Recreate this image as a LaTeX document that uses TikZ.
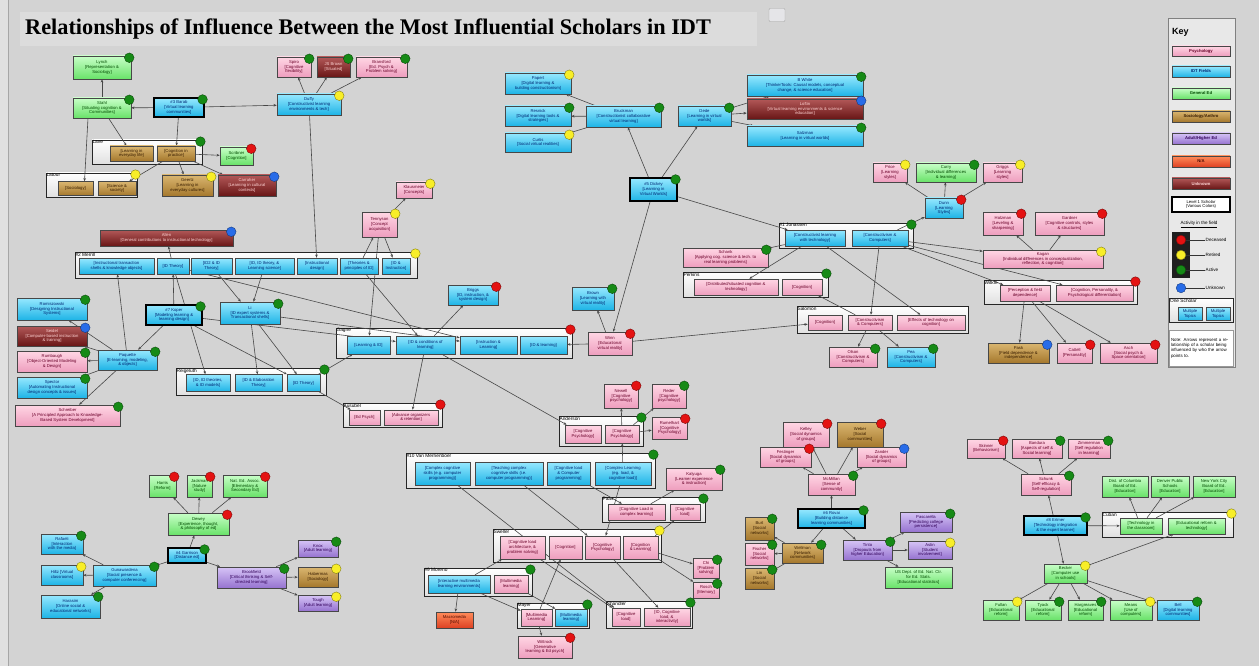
\documentclass[tikz,border=0pt]{standalone}
\usepackage{fontspec}
\setmainfont{Liberation Sans}
\newfontfamily\headfont{Liberation Serif}
\usepackage{tikz}
\usetikzlibrary{arrows.meta, positioning, calc}

% field colours (top / bottom of the shading, text)
\definecolor{canvas}{RGB}{211,211,211}
\definecolor{headbg}{RGB}{220,220,220}
\definecolor{keyfill}{RGB}{232,232,232}
\definecolor{psyT}{RGB}{255,214,228}
\definecolor{psyB}{RGB}{238,158,190}
\definecolor{psyX}{RGB}{105,0,40}
\definecolor{idtT}{RGB}{150,232,255}
\definecolor{idtB}{RGB}{30,180,230}
\definecolor{idtX}{RGB}{0,38,115}
\definecolor{genT}{RGB}{200,255,200}
\definecolor{genB}{RGB}{105,226,105}
\definecolor{genX}{RGB}{0,75,0}
\definecolor{socT}{RGB}{218,182,112}
\definecolor{socB}{RGB}{165,120,45}
\definecolor{socX}{RGB}{55,28,0}
\definecolor{aduT}{RGB}{214,196,246}
\definecolor{aduB}{RGB}{150,115,208}
\definecolor{aduX}{RGB}{48,0,88}
\definecolor{naT}{RGB}{255,140,90}
\definecolor{naB}{RGB}{222,65,35}
\definecolor{naX}{RGB}{80,10,0}
\definecolor{unkT}{RGB}{178,88,88}
\definecolor{unkB}{RGB}{105,22,22}
\definecolor{unkX}{RGB}{255,212,212}
\definecolor{dRed}{RGB}{228,18,18}
\definecolor{dYel}{RGB}{248,238,40}
\definecolor{dGrn}{RGB}{22,138,22}
\definecolor{dBlu}{RGB}{40,108,232}

\pgfdeclarelayer{bgpaper}
\pgfdeclarelayer{groups}
\pgfdeclarelayer{links}
\pgfsetlayers{bgpaper,groups,links,main}

% activity dot on the top right corner of a box
\newcommand{\status}[2]{\filldraw[fill=#2, draw=#2!55!black, line width=0.4pt]
  ([shift={(-2,2)}]#1.north east) circle[radius=4.8];}

\begin{document}
\begin{tikzpicture}[
		x=1pt, y=-1pt,
		box/.style={draw=black!72, line width=0.5pt, inner sep=0.4pt, align=center,
			font=\fontsize{4.2}{4.7}\selectfont},
		wh/.style 2 args={minimum width=#1, minimum height=#2},
		psy/.style={box, top color=psyT, bottom color=psyB, text=psyX},
		idt/.style={box, top color=idtT, bottom color=idtB, text=idtX},
		gen/.style={box, top color=genT, bottom color=genB, text=genX},
		soc/.style={box, top color=socT, bottom color=socB, text=socX},
		adu/.style={box, top color=aduT, bottom color=aduB, text=aduX},
		na/.style={box, top color=naT, bottom color=naB, text=naX},
		unk/.style={box, top color=unkT, bottom color=unkB, text=unkX},
		lone/.style={draw=black, line width=1.1pt},
		grp/.style={draw=black!85, line width=0.9pt, top color=white, bottom color=black!12, inner sep=0},
		grplbl/.style={anchor=north west, inner sep=0.8pt, font=\fontsize{4.8}{5}\selectfont},
		keylbl/.style={anchor=west, inner sep=0.5pt, font=\fontsize{4.6}{5}\selectfont},
		link/.style={draw=black!72, line width=0.6pt, -{Stealth[length=3.2pt, width=2.6pt]}}
	]
		\useasboundingbox (0,0) rectangle (1259,666);
		\begin{pgfonlayer}{bgpaper}
			\fill[canvas] (0,0) rectangle (1259,666);
			\fill[black!12] (0,0) rectangle (8,666);
			\draw[black!35] (8,0) -- (8,666);
			\fill[headbg] (20,12) rectangle (757,46);
		\end{pgfonlayer}

		% Title
		\node[anchor=west, inner sep=0, font=\headfont\bfseries\fontsize{22.3}{24}\selectfont] (title)
			at (25,29) {Relationships of Influence Between the Most Influential Scholars in IDT};
		\node[draw=black!35, fill=blue!8!black!10, rounded corners=1pt, wh={16}{13}, inner sep=0] (icon) at (777,15) {};

		% Level 1 scholar frames and key
		\begin{pgfonlayer}{groups}
			\node[draw=black!50, line width=0.8pt, fill=keyfill, wh={67}{349}, inner sep=0] (key) at (1201.5,192.5) {};
			\node[grp, wh={110}{24}] (lave) at (147,152) {};
			\node[grp, wh={91}{24}] (latour) at (91.5,185) {};
			\node[grp, wh={342}{26}] (merrill) at (246,265) {};
			\node[grp, wh={150}{27}] (reigeluth) at (251,381.5) {};
			\node[grp, wh={236}{30}] (gagne) at (454,343) {};
			\node[grp, wh={99}{24}] (ausubel) at (392.5,415) {};
			\node[grp, wh={134}{25}] (jonassen) at (846,235.5) {};
			\node[grp, wh={145}{25}] (perkins) at (755.5,284.5) {};
			\node[grp, wh={171}{27}] (salomon) at (882.5,319.5) {};
			\node[grp, wh={153}{24}] (witkin) at (1060.5,292) {};
			\node[grp, wh={84}{30}] (anderson) at (601,431) {};
			\node[grp, wh={249}{35}] (vanmer) at (530.5,470.5) {};
			\node[grp, wh={103}{25}] (paas) at (653.5,509.5) {};
			\node[grp, wh={168}{33}] (sweller) at (577,545.5) {};
			\node[grp, wh={86}{27}] (chandler) at (649,614.5) {};
			\node[grp, wh={72}{25}] (mayer) at (553,615.5) {};
			\node[grp, wh={108}{28}] (moreno) at (478,582) {};
			\node[grp, wh={131}{25}] (cuban) at (1167.5,524.5) {};
			\node[grp, wh={64}{24}] (kone) at (1201.5,310) {};
		\end{pgfonlayer}
		\foreach \g/\t in {lave/Lave, latour/Latour, merrill/\#2 Merrill, reigeluth/Reigeluth, gagne/Gagne,
			ausubel/Ausubel, jonassen/\#1 Jonassen, perkins/Perkins, salomon/Salomon, witkin/Witkin,
			anderson/Anderson, vanmer/\#10 Van Merrienboer, paas/Paas, sweller/Sweller, chandler/Chandler,
			mayer/Mayer, moreno/\#9 Moreno, cuban/Cuban, kone/One Scholar}
			{\node[grplbl] (\g-t) at (\g.north west) {\t};}

		% Situated cognition
		\node[gen, wh={58}{23}] (lynch) at (102,67.5) {Lynch\\{}[Representation \&\\Sociology]};
		\node[gen, wh={58}{20}] (stahl) at (102,108) {Stahl\\{}[Situating cognition \&\\Communities]};
		\node[idt, lone, wh={50}{19}] (barab) at (179,107.5) {\#3 Barab\\{}[Virtual learning\\communities]};
		\node[soc, wh={43}{15}] (lave1) at (131.5,153.5) {[Learning in\\everyday life]};
		\node[soc, wh={38}{15}] (lave2) at (176,153.5) {[Cognition in\\practice]};
		\node[gen, wh={33}{18}] (scribner) at (236.5,156) {Scribner\\{}[Cognition]};
		\node[soc, wh={35}{14}] (lat1) at (75.5,188.5) {[Sociology]};
		\node[soc, wh={38}{14}] (lat2) at (117,188.5) {[Science \&\\society]};
		\node[soc, wh={51}{21}] (geertz) at (187.5,185.5) {Geertz\\{}[Learning in\\everyday cultures]};
		\node[unk, wh={58}{21}] (carraher) at (247,185.5) {Carraher\\{}[Learning in cultural\\contexts]};

		% Constructivist environments
		\node[psy, wh={34}{20}] (spiro) at (294,67) {Spiro\\{}[Cognitive\\flexibility]};
		\node[unk, wh={33}{20}] (jsbrown) at (333.5,67) {JS Brown\\{}[Situated]};
		\node[psy, wh={51}{20}] (bransford) at (381.5,67) {Bransford\\{}[Ed. Psych \&\\Problem solving]};
		\node[idt, wh={64}{21}] (duffy) at (309,104.5) {Duffy\\{}[Constructivist learning\\environments \& tech]};

		% Virtual worlds
		\node[idt, wh={66}{21}] (papert) at (538,83.5) {Papert\\{}[Digital learning \&\\building constructionism]};
		\node[idt, wh={66}{20}] (resnick) at (538,116) {Resnick\\{}[Digital learning tools \&\\strategies]};
		\node[idt, wh={66}{19}] (curtis) at (538,142.5) {Curtis\\{}[Social virtual realities]};
		\node[idt, wh={75}{21}] (bruckman) at (623.5,116.5) {Bruckman\\{}[Constructionist collaborative\\virtual learning]};
		\node[idt, wh={53}{20}] (dede) at (704.5,116) {Dede\\{}[Learning in virtual\\worlds]};
		\node[idt, wh={116}{21}] (bwhite) at (805,85.5) {B White\\{}[ThinkerTools: Causal models, conceptual\\change, \& science education]};
		\node[unk, wh={116}{20}] (loftin) at (805,109) {Loftin\\{}[Virtual learning environments \& science\\education]};
		\node[idt, wh={116}{20}] (salzman) at (805,136) {Salzman\\{}[Learning in virtual worlds]};
		\node[idt, lone, wh={47}{23}] (dickey) at (653.5,189.5) {\#5 Dickey\\{}[Learning in\\Virtual Worlds]};

		% Learning and cognitive styles
		\node[psy, wh={34}{19}] (price) at (890,172.5) {Price\\{}[Learning\\styles]};
		\node[gen, wh={60}{19}] (curry) at (946,172.5) {Curry\\{}[Individual differences\\\& learning]};
		\node[psy, wh={39}{19}] (griggs) at (1002.5,172.5) {Griggs\\{}[Learning\\styles]};
		\node[idt, wh={38}{20}] (dunn) at (944,208) {Dunn\\{}[Learning\\Styles]};
		\node[psy, wh={40}{23}] (holzman) at (1003,223.5) {Holzman\\{}[Leveling \&\\sharpening]};
		\node[psy, wh={69}{23}] (gardner) at (1069.5,223.5) {Gardner\\{}[Cognitive controls, styles\\\& structures]};
		\node[psy, wh={120}{18}] (kagan) at (1043,259) {Kagan\\{}[Individual differences in conceptualization,\\reflection, \& cognition]};
		\node[psy, wh={50}{16}] (wit1) at (1025,293) {[Perception \& field\\dependence]};
		\node[psy, wh={77}{16}] (wit2) at (1094.5,293) {[Cognition, Personality, \&\\Psychological differentiation]};
		\node[soc, wh={61}{20}] (pask) at (1018.5,353) {Pask\\{}[Field dependence \&\\independence]};
		\node[psy, wh={35}{20}] (cattell) at (1074.5,353) {Cattell\\{}[Personality]};
		\node[psy, wh={57}{20}] (asch) at (1128.5,353) {Asch\\{}[Social psych \&\\Space orientation]};

		% Jonassen, Perkins, Salomon
		\node[idt, wh={60}{16}] (jon1) at (815,238) {[Constructivist learning\\with technology]};
		\node[idt, wh={56}{16}] (jon2) at (880,238) {[Constructivism \&\\Computers]};
		\node[psy, wh={85}{19}] (schank) at (725.5,257.5) {Schank\\{}[Applying cog. science \& tech. to\\real learning problems]};
		\node[psy, wh={84}{16}] (per1) at (736,287) {[Distributed/situated cognition \&\\technology]};
		\node[psy, wh={40}{16}] (per2) at (802,287) {[Cognition]};
		\node[psy, wh={34}{15}] (sal1) at (825,322.5) {[Cognition]};
		\node[psy, wh={44}{15}] (sal2) at (870,322.5) {[Constructivism\\\& Computers]};
		\node[psy, wh={68}{15}] (sal3) at (931,322.5) {[Effects of technology on\\cognition]};
		\node[psy, wh={48}{20}] (olson) at (853,357) {Olson\\{}[Constructivism \&\\Computers]};
		\node[idt, wh={48}{20}] (pea) at (911,357) {Pea\\{}[Constructivism \&\\Computers]};

		% Merrill and instructional design
		\node[unk, wh={133}{16}] (allen) at (166.5,238) {Allen\\{}[General contributions to instructional technology]};
		\node[idt, wh={75}{16}] (mer1) at (116.5,266) {[Instructional transaction\\shells \& knowledge objects]};
		\node[idt, wh={32}{16}] (mer2) at (173,266) {[ID Theory]};
		\node[idt, wh={41}{16}] (mer3) at (211.5,266) {[ID2 \& ID\\Theory]};
		\node[idt, wh={59}{16}] (mer4) at (264.5,266) {[ID, ID theory, \&\\Learning science]};
		\node[idt, wh={40}{16}] (mer5) at (317,266) {[Instructional\\design]};
		\node[idt, wh={38}{16}] (mer6) at (359,266) {[Theories \&\\principles of ID]};
		\node[idt, wh={28}{16}] (mer7) at (396,266) {[ID \&\\Instruction]};
		\node[psy, wh={35}{25}] (tennyson) at (379.5,224.5) {Tennyson\\{}[Concept\\acquisition]};
		\node[psy, wh={36}{16}] (klausmeier) at (414,190) {Klausmeier\\{}[Concepts]};
		\node[idt, wh={70}{22}] (romiszowski) at (52,309) {Romiszowski\\{}[Designing Instructional\\Systems]};
		\node[unk, wh={70}{20}] (seidel) at (52,336) {Seidel\\{}[Computer-based instruction\\\& training]};
		\node[psy, wh={70}{21}] (rumbaugh) at (52,361.5) {Rumbaugh\\{}[Object-Oriented Modeling\\\& Design]};
		\node[idt, wh={70}{21}] (spector) at (52,387.5) {Spector\\{}[Automating Instructional\\design concepts \& issues]};
		\node[psy, wh={105}{21}] (schreiber) at (67.5,415.5) {Schreiber\\{}[A Principled Approach to Knowledge-\\Based System Development]};
		\node[idt, wh={59}{20}] (paquette) at (127.5,360) {Paquette\\{}[E-learning, modeling,\\\& objects]};
		\node[idt, lone, wh={56}{20}] (koper) at (174,315) {\#7 Koper\\{}[Modeling learning \&\\learning design]};
		\node[idt, wh={60}{22}] (li) at (250,313) {Li\\{}[ID expert systems \&\\Transactional shells]};
		\node[idt, wh={44}{17}] (rei1) at (208,383) {[ID, ID theories,\\\& ID models]};
		\node[idt, wh={47}{17}] (rei2) at (258.5,383) {[ID \& Elaboration\\Theory]};
		\node[idt, wh={33}{17}] (rei3) at (303.5,383) {[ID Theory]};

		% Gagne and Ausubel
		\node[idt, wh={43}{18}] (gag1) at (368.5,345) {[Learning \& ID]};
		\node[idt, wh={59}{18}] (gag2) at (425.5,345) {[ID \& conditions of\\learning]};
		\node[idt, wh={57}{18}] (gag3) at (488.5,345) {[Instruction \&\\Learning]};
		\node[idt, wh={47}{18}] (gag4) at (543.5,345) {[ID \& learning]};
		\node[idt, wh={50}{20}] (briggs) at (473,295) {Briggs\\{}[ID, instruction, \&\\system design]};
		\node[psy, wh={31}{15}] (aus1) at (364.5,417.5) {[Ed Psych]};
		\node[psy, wh={54}{15}] (aus2) at (411,417.5) {[Advance organizers\\\& retention]};
		\node[idt, wh={42}{23}] (brownvr) at (593,298.5) {Brown\\{}[Learning with\\virtual reality]};
		\node[psy, wh={44}{23}] (winn) at (610,343.5) {Winn\\{}[Educational\\virtual reality]};

		% Cognitive load
		\node[psy, wh={34}{24}] (newell) at (621,396) {Newell\\{}[Cognitive\\psychology]};
		\node[psy, wh={34}{24}] (reder) at (669,396) {Reder\\{}[Cognitive\\psychology]};
		\node[psy, wh={35}{22}] (rumelhart) at (669.5,428) {Rumelhart\\{}[Cognitive\\Psychology]};
		\node[psy, wh={36}{18}] (and1) at (583,434) {[Cognitive\\Psychology]};
		\node[psy, wh={34}{18}] (and2) at (622,434) {[Cognitive\\Psychology]};
		\node[idt, wh={55}{23}] (vm1) at (442.5,473.5) {[Complex cognitive\\skills (e.g. computer\\programming)]};
		\node[idt, wh={68}{23}] (vm2) at (509,473.5) {[Teaching complex\\cognitive skills (i.e.\\computer programming)]};
		\node[idt, wh={43}{23}] (vm3) at (568.5,473.5) {[Cognitive load\\\& Computer\\programming]};
		\node[idt, wh={56}{23}] (vm4) at (623,473.5) {[Complex Learning\\(eg. load, \&\\cognitive load)]};
		\node[psy, wh={56}{22}] (kalyuga) at (694,479) {Kalyuga\\{}[Learner experience\\\& instruction]};
		\node[psy, wh={57}{16}] (paas1) at (636.5,512) {[Cognitive Load in\\complex learning]};
		\node[psy, wh={30}{16}] (paas2) at (685,512) {[Cognitive\\load]};
		\node[psy, wh={45}{23}] (sw1) at (522.5,547.5) {[Cognitive load\\architecture, \&\\problem solving]};
		\node[psy, wh={33}{23}] (sw2) at (565.5,547.5) {[Cognition]};
		\node[psy, wh={35}{23}] (sw3) at (602.5,547.5) {[Cognitive\\Psychology]};
		\node[psy, wh={35}{23}] (sw4) at (640.5,547.5) {[Cognition\\\& Learning]};
		\node[psy, wh={26}{20}] (chi) at (706,568) {Chi\\{}[Problem\\solving]};
		\node[psy, wh={26}{16}] (rosch) at (706,590) {Rosch\\{}[Memory]};
		\node[psy, wh={28}{18}] (ch1) at (626,617) {[Cognitive\\load]};
		\node[psy, wh={46}{18}] (ch2) at (667,617) {[ID, Cognitive\\load, \&\\interactivity]};
		\node[psy, wh={31}{17}] (may1) at (536.5,617.5) {[Multimedia\\Learning]};
		\node[idt, wh={32}{17}] (may2) at (571,617.5) {[Multimedia\\learning]};
		\node[idt, wh={62}{18}] (mor1) at (459,584) {[Interactive multimedia\\learning environments]};
		\node[psy, wh={34}{18}] (mor2) at (511,584) {[Multimedia\\learning]};
		\node[na, wh={37}{16}] (macromedia) at (454.5,620) {Macromedia\\{}[N/A]};
		\node[psy, wh={54}{22}] (wittrock) at (545,647) {Wittrock\\{}[Generative\\learning \& Ed psych]};

		% Distance and adult education
		\node[gen, wh={27}{22}] (harris) at (162.5,486) {Harris\\{}[Reform]};
		\node[gen, wh={25}{22}] (jackman) at (199.5,486) {Jackman\\{}[Nature\\study]};
		\node[gen, wh={44}{22}] (nea) at (245,486) {Nat. Ed. Assoc.\\{}[Elementary \&\\Secondary Ed]};
		\node[gen, wh={61}{22}] (dewey) at (198.5,524) {Dewey\\{}[Experience, thought,\\\& philosophy of ed]};
		\node[idt, lone, wh={38}{15}] (garrison) at (187,555.5) {\#4 Garrison\\{}[Distance ed]};
		\node[idt, wh={63}{21}] (gunawardena) at (124.5,575.5) {Gunawardena\\{}[Social presence \&\\computer conferencing]};
		\node[idt, wh={42}{20}] (rafaeli) at (62,544) {Rafaeli\\{}[Interaction\\with the media]};
		\node[idt, wh={42}{20}] (hiltz) at (62,575) {Hiltz [Virtual\\classrooms]};
		\node[idt, wh={59}{23}] (harasim) at (70.5,606.5) {Harasim\\{}[Online social \&\\educational networks]};
		\node[adu, wh={69}{21}] (brookfield) at (251.5,577.5) {Brookfield\\{}[Critical thinking \& Self-\\directed learning]};
		\node[adu, wh={40}{17}] (knox) at (318,548.5) {Knox\\{}[Adult learning]};
		\node[soc, wh={40}{20}] (habermas) at (318,577) {Habermas\\{}[Sociology]};
		\node[adu, wh={40}{16}] (tough) at (318,603) {Tough\\{}[Adult learning]};

		% Online communities
		\node[psy, wh={46}{25}] (kelley) at (806,434.5) {Kelley\\{}[Social dynamics\\of groups]};
		\node[soc, wh={46}{25}] (weber) at (860,434.5) {Weber\\{}[Social\\communities]};
		\node[psy, wh={51}{20}] (festinger) at (785.5,457) {Festinger\\{}[Social dynamics\\of groups]};
		\node[psy, wh={49}{20}] (zander) at (881.5,457) {Zander\\{}[Social dynamics\\of groups]};
		\node[psy, wh={47}{21}] (mcmillan) at (831.5,484.5) {McMillan\\{}[Sense of\\community]};
		\node[idt, lone, wh={67}{19}] (rovai) at (831.5,518.5) {\#6 Rovai\\{}[Building distance\\learning communities]};
		\node[soc, wh={41}{20}] (wellman) at (802.5,553) {Wellman\\{}[Network\\communities]};
		\node[soc, wh={29}{23}] (burt) at (759.5,528.5) {Burt\\{}[Social\\networks]};
		\node[psy, wh={29}{22}] (fischer) at (759.5,554) {Fischer\\{}[Social\\networks]};
		\node[soc, wh={29}{21}] (lin) at (759.5,578.5) {Lin\\{}[Social\\networks]};
		\node[adu, wh={49}{20}] (tinto) at (867.5,550) {Tinto\\{}[Dropouts from\\higher Education]};
		\node[adu, wh={52}{20}] (pascarella) at (926,522) {Pascarella\\{}[Predicting college\\persistence]};
		\node[adu, wh={44}{18}] (astin) at (930,550) {Astin\\{}[Student\\involvement]};
		\node[gen, wh={67}{21}] (usdept) at (918.5,577.5) {US Dept. of Ed. Nat. Ctr.\\for Ed. Stats.\\{}[Educational statistics]};

		% Technology integration
		\node[psy, wh={38}{19}] (skinner) at (986,448.5) {Skinner\\{}[Behaviorism]};
		\node[psy, wh={50}{19}] (bandura) at (1037,448.5) {Bandura\\{}[Aspects of self \&\\Social learning]};
		\node[psy, wh={42}{19}] (zimmerman) at (1089,448.5) {Zimmerman\\{}[Self regulation\\in learning]};
		\node[psy, wh={50}{21}] (schunk) at (1046,484.5) {Schunk\\{}[Self-efficacy \&\\Self-regulation]};
		\node[idt, lone, wh={63}{19}] (ertmer) at (1055.5,525.5) {\#8 Ertmer\\{}[Technology integration\\\& the expert learner]};
		\node[gen, wh={42}{16}] (cub1) at (1141,526) {[Technology in\\the classroom]};
		\node[gen, wh={57}{16}] (cub2) at (1196.5,526) {[Educational reform \&\\technology]};
		\node[gen, wh={46}{21}] (dcboard) at (1125,486.5) {Dist. of Columbia\\Board of Ed.\\{}[Education]};
		\node[gen, wh={38}{21}] (denver) at (1170,486.5) {Denver Public\\Schools\\{}[Education]};
		\node[gen, wh={42}{21}] (nycboard) at (1214,486.5) {New York City\\Board of Ed.\\{}[Education]};
		\node[gen, wh={43}{19}] (becker) at (1065.5,573.5) {Becker\\{}[Computer use\\in schools]};
		\node[gen, wh={36}{20}] (fullan) at (1001,610) {Fullan\\{}[Educational\\reform]};
		\node[gen, wh={36}{20}] (tyack) at (1043,610) {Tyack\\{}[Educational\\reform]};
		\node[gen, wh={35}{20}] (hargreaves) at (1085.5,610) {Hargreaves\\{}[Educational\\reform]};
		\node[gen, wh={42}{20}] (means) at (1131,610) {Means\\{}[Use of\\computers]};
		\node[idt, wh={42}{20}] (bell) at (1178,610) {Bell\\{}[Digital learning\\communities]};

		% Influence arrows (point to the influencing scholar)
		\begin{pgfonlayer}{links}
			\draw[link] ([xshift=-14]stahl.south) -- ([xshift=9]lat1.north);
			\foreach \from/\to in {stahl/lynch, barab/stahl, barab/duffy, stahl/lave1, barab/lave2,
				lave2/scribner, lave2/lat2, lave2/geertz, lave2/carraher,
				duffy/spiro, duffy/jsbrown, duffy/bransford, duffy/mer5,
				bruckman/papert, bruckman/resnick, bruckman/curtis,
				dede/bwhite, dede/loftin, dede/salzman,
				dickey/bruckman, dickey/dede, dickey/winn, dickey/jon1,
				dunn/price, dunn/curry, dunn/griggs, jon2/dunn,
				kagan/holzman, kagan/gardner, jon2/kagan, jon2/wit2, jon2/wit1,
				wit1/pask, wit1/cattell, wit1/asch,
				jon1/schank, jon1/per1, jon1/sal3, jon2/sal2, sal2/per2, sal2/olson, sal2/pea,
				winn/sal1, winn/brownvr, winn/gag4,
				tennyson/klausmeier, mer6/tennyson, tennyson/mer7, tennyson/gag1,
				mer2/allen,
				paquette/romiszowski, paquette/seidel, paquette/rumbaugh, paquette/spector,
				paquette/schreiber, paquette/mer1,
				koper/paquette, koper/mer2, mer2/rei1, mer3/li, mer4/li,
				li/rei2, li/rei3, koper/rei3, rei3/gag1, rei3/aus1,
				gag2/briggs, gag2/aus2, gag2/and1, mer6/gag2, li/gag3, koper/gag2, mer2/gag3,
				and2/newell, and2/reder, and2/rumelhart,
				vm4/and2, vm3/paas1, paas1/kalyuga, vm1/ch1, vm2/sw3, vm4/sw3,
				sw4/paas2, sw4/chi, sw4/rosch, sw3/ch2, sw1/ch1,
				mor1/macromedia, mor1/may1, mor2/may2, mor1/sw1, may1/sw2, may1/wittrock,
				garrison/dewey, garrison/gunawardena, garrison/brookfield,
				dewey/harris, dewey/jackman, dewey/nea,
				gunawardena/rafaeli, gunawardena/hiltz, gunawardena/harasim,
				brookfield/knox, brookfield/habermas, brookfield/tough,
				mcmillan/kelley, mcmillan/weber, mcmillan/festinger, mcmillan/zander,
				rovai/mcmillan, rovai/wellman, rovai/tinto,
				wellman/burt, wellman/fischer, wellman/lin,
				tinto/pascarella, tinto/astin, tinto/usdept,
				schunk/skinner, schunk/bandura, schunk/zimmerman,
				ertmer/schunk, ertmer/cub1, ertmer/becker,
				cub1/dcboard, cub1/denver, cub1/nycboard,
				becker/cub2, becker/fullan, becker/tyack, becker/hargreaves, becker/means, becker/bell}
				{\draw[link] (\from) -- (\to);}
		\end{pgfonlayer}

		% Activity in the field
		\foreach \n/\c in {lynch/dGrn, stahl/dGrn, barab/dGrn, lave/dGrn, scribner/dRed, latour/dYel,
			geertz/dYel, carraher/dBlu, spiro/dGrn, jsbrown/dGrn, bransford/dGrn, duffy/dYel,
			papert/dYel, resnick/dGrn, curtis/dYel, bruckman/dGrn, dede/dGrn, bwhite/dGrn,
			loftin/dBlu, salzman/dGrn, dickey/dGrn, price/dYel, curry/dGrn, griggs/dYel, dunn/dRed,
			holzman/dRed, gardner/dRed, kagan/dYel, witkin/dRed, pask/dBlu, cattell/dRed, asch/dRed,
			jonassen/dGrn, schank/dGrn, perkins/dGrn, olson/dGrn, pea/dGrn, allen/dBlu, merrill/dYel,
			tennyson/dYel, klausmeier/dYel, romiszowski/dGrn, seidel/dBlu, rumbaugh/dGrn,
			spector/dGrn, schreiber/dGrn, paquette/dGrn, koper/dGrn, li/dGrn, reigeluth/dGrn,
			gagne/dRed, briggs/dRed, ausubel/dRed, brownvr/dGrn, winn/dRed, newell/dRed,
			reder/dGrn, rumelhart/dRed, anderson/dGrn, vanmer/dGrn, kalyuga/dGrn, paas/dGrn,
			sweller/dYel, chi/dGrn, rosch/dGrn, chandler/dGrn, mayer/dGrn, moreno/dGrn,
			wittrock/dRed, harris/dRed, jackman/dRed, nea/dRed, dewey/dRed, garrison/dGrn,
			gunawardena/dGrn, rafaeli/dGrn, hiltz/dYel, harasim/dGrn, brookfield/dGrn, knox/dGrn,
			habermas/dYel, tough/dYel, kelley/dRed, weber/dRed, festinger/dRed, zander/dBlu,
			mcmillan/dGrn, rovai/dGrn, wellman/dGrn, burt/dGrn, fischer/dGrn, lin/dGrn,
			tinto/dGrn, pascarella/dGrn, astin/dYel, skinner/dRed, bandura/dGrn, zimmerman/dGrn,
			schunk/dGrn, ertmer/dGrn, cuban/dYel, becker/dYel, fullan/dYel, tyack/dGrn,
			hargreaves/dGrn, means/dYel, bell/dGrn}
			{\status{\n}{\c}}

		% Key
		\node[anchor=west, inner sep=0, font=\bfseries\fontsize{9}{10}\selectfont] (keyt) at (1172,32) {Key};
		\node[psy, wh={58}{10}, font=\bfseries\fontsize{4.2}{4.7}\selectfont] (kpsy) at (1201,51) {Psychology};
		\node[idt, wh={58}{11}, font=\bfseries\fontsize{4.2}{4.7}\selectfont] (kidt) at (1201,71.5) {IDT Fields};
		\node[gen, wh={58}{11}, font=\bfseries\fontsize{4.2}{4.7}\selectfont] (kgen) at (1201,93.5) {General Ed};
		\node[soc, wh={58}{11}, font=\bfseries\fontsize{4.2}{4.7}\selectfont] (ksoc) at (1201,116.5) {Sociology/Anthro};
		\node[adu, wh={58}{11}, font=\bfseries\fontsize{4.2}{4.7}\selectfont] (kadu) at (1201,138.5) {Adult/Higher Ed};
		\node[na, wh={58}{11}, font=\bfseries\fontsize{4.2}{4.7}\selectfont] (kna) at (1201,161.5) {N/A};
		\node[unk, wh={58}{11}, font=\bfseries\fontsize{4.2}{4.7}\selectfont] (kunkn) at (1201,183.5) {Unknown};
		\node[box, fill=white, lone, wh={58}{15}] (klvl) at (1201,204.5) {Level 1 Scholar\\(Various Colors)};
		\node[anchor=north, inner sep=0, font=\fontsize{4.6}{5}\selectfont] (kact) at (1199,221) {\underline{Activity in the field}};
		\node[fill=black!88, wh={18}{46}, inner sep=0] (klight) at (1181,255) {};
		\node[keylbl] (kdec) at (1205,240) {Deceased};
		\node[keylbl] (kret) at (1205,255) {Retired};
		\node[keylbl] (kactv) at (1205,270) {Active};
		\node[keylbl] (kunk) at (1205,288) {Unknown};
		\foreach \k/\c in {kdec/dRed, kret/dYel, kactv/dGrn, kunk/dBlu} {
			\draw[black!80, line width=0.5pt] (klight.center |- \k) -- (\k.west);
			\filldraw[fill=\c, draw=\c!55!black, line width=0.4pt] (klight.center |- \k) circle[radius=4.8];
		}
		\node[idt, wh={24}{13}] (kone1) at (1190,314) {Multiple\\Topics};
		\node[idt, wh={24}{13}] (kone2) at (1218,314) {Multiple\\Topics};
		\node[draw=black!40, fill=white, minimum height=36, text width=61pt, align=left, anchor=north,
			inner sep=1.5pt, font=\fontsize{4.4}{5.2}\selectfont] (knote) at (1201.5,330)
			{Note: Arrows represent a relationship of a scholar being influenced by who the arrow points to.};
	\end{tikzpicture}
\end{document}
